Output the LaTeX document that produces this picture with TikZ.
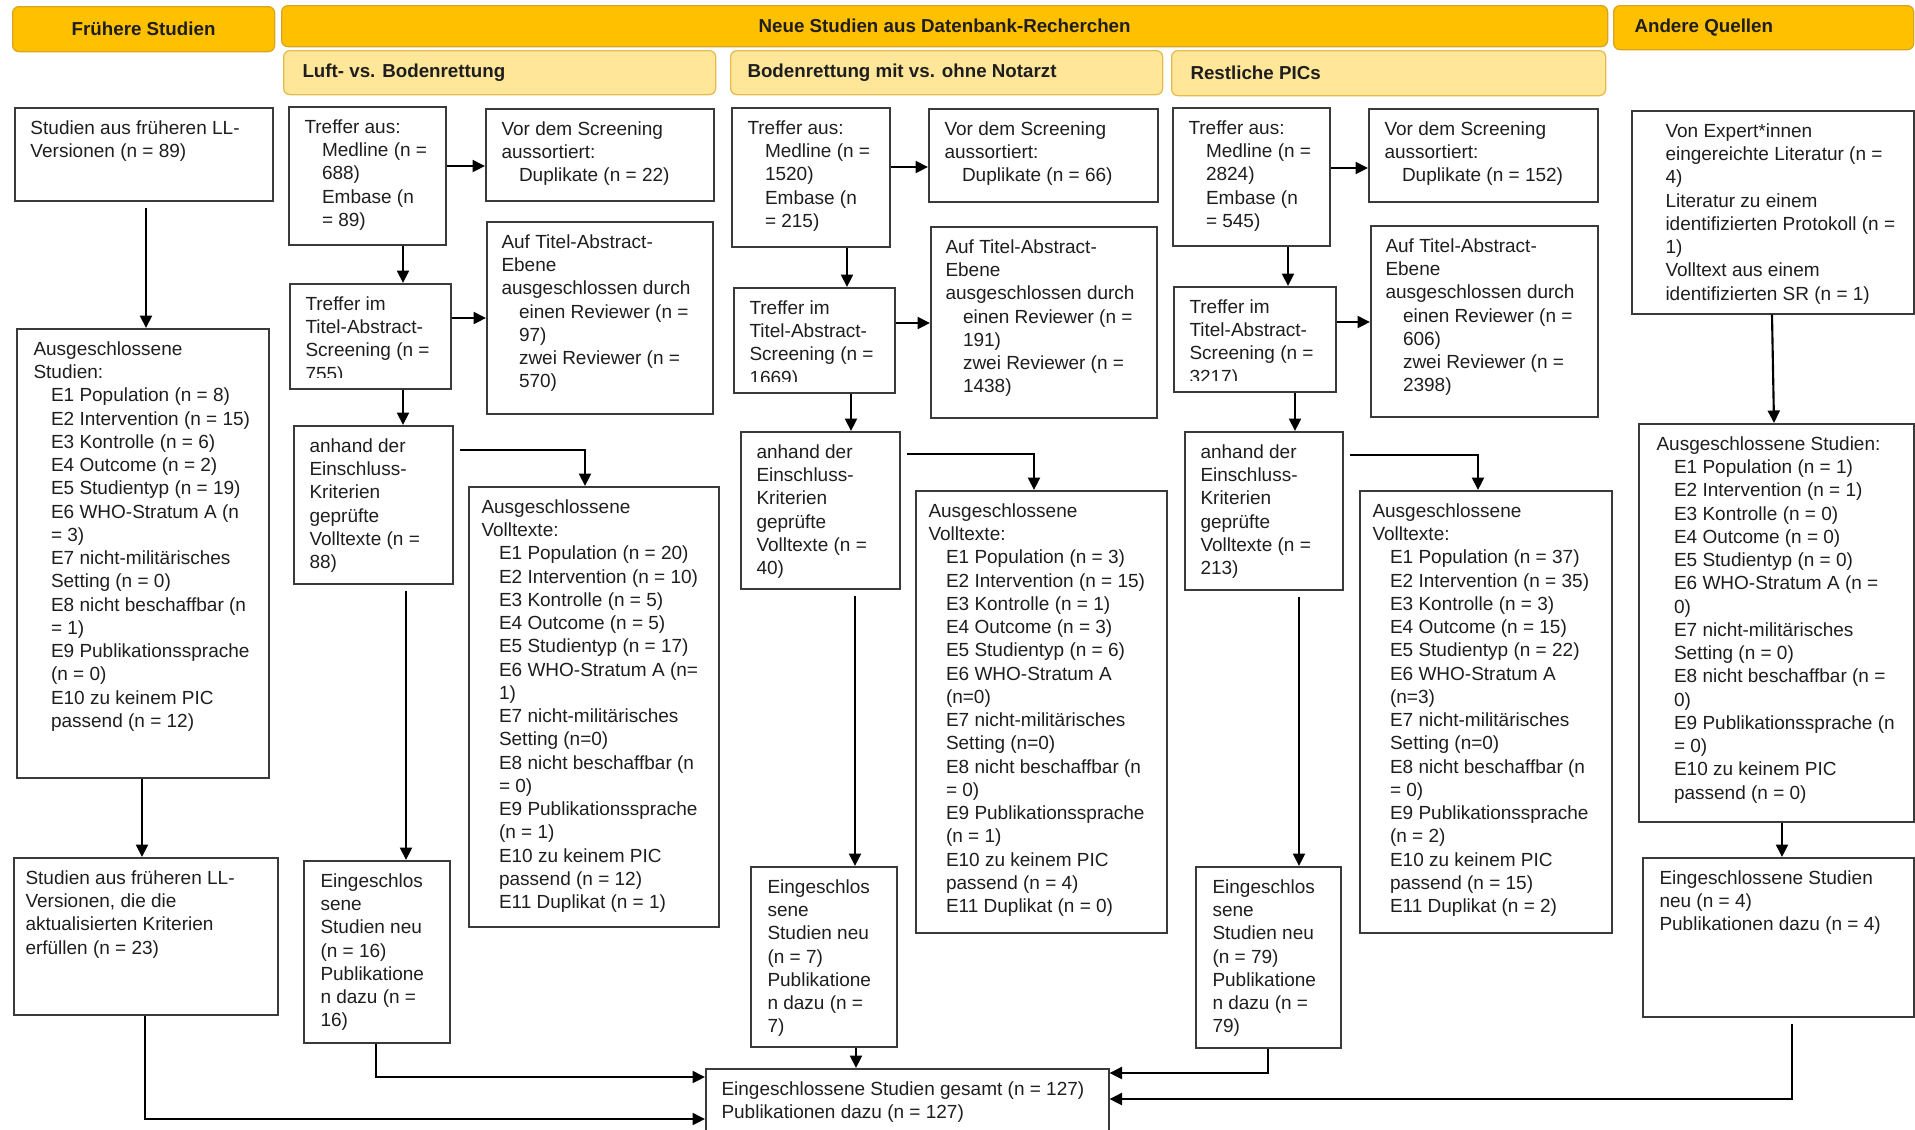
\documentclass[tikz,border=0pt]{standalone}
\usepackage{fontspec}
\setmainfont{Liberation Sans}
\usetikzlibrary{arrows.meta,calc}
\definecolor{hdark}{HTML}{FFC000}
\definecolor{hdarkb}{HTML}{D9A520}
\definecolor{hlight}{HTML}{FFE699}
\definecolor{hlightb}{HTML}{E6BA4E}
\definecolor{boxline}{HTML}{3A3A3A}
\definecolor{tcol}{HTML}{1E1E1E}
\newcommand{\ii}{\hspace*{7pt}}
\newcommand{\bx}[7][16]{%
  \node[box, minimum width={(#5-#3)*0.4pt}, minimum height={(#6-#4)*0.4pt}] (#2) at (#3,#4) {};
  \node[txt] (#2t) at ([shift={(#1,8)}]#2.north west) {\rule{0pt}{7.5pt}#7};
}
\newcommand{\bxc}[7][16]{%
  \node[box, minimum width={(#5-#3)*0.4pt}, minimum height={(#6-#4)*0.4pt}] (#2) at (#3,#4) {};
  \begin{scope}
  \clip (#3,#4) rectangle (#5,#6-11);
  \node[txt] (#2t) at ([shift={(#1,8)}]#2.north west) {\rule{0pt}{7.5pt}#7};
  \end{scope}
}
\begin{document}
\begin{tikzpicture}[x=0.4pt,y=-0.4pt,
  box/.style={draw=boxline, line width=0.6pt, inner sep=0pt, anchor=north west},
  txt/.style={font=\fontsize{7.6}{9.3}\selectfont, align=left, inner sep=0pt, anchor=north west, text=tcol},
  hdA/.style={draw=hdarkb, fill=hdark, line width=0.5pt, rounded corners=2.5pt, inner sep=0pt, anchor=north west},
  hdB/.style={draw=hlightb, fill=hlight, line width=0.5pt, rounded corners=2.5pt, inner sep=0pt, anchor=north west},
  htxt/.style={font=\fontsize{7.5}{9}\selectfont\bfseries, inner sep=0pt, text=tcol},
  arr/.style={draw=black, line width=0.85pt, -{Triangle[length=5pt,width=4.8pt]}},
  gap/.style={shorten <=2.4pt}]
\useasboundingbox (0,0) rectangle (1915,1129);

% ---------- headers ----------
\node[hdA, minimum width={(274-12)*0.4pt}, minimum height={(51-6)*0.4pt}] (h1) at (12,6) {};
\node[htxt] (h1t) at (h1.center) {Frühere Studien};
\node[hdA, minimum width={(1607-281)*0.4pt}, minimum height={(46-5)*0.4pt}] (h2) at (281,5) {};
\node[htxt] (h2t) at (h2.center) {Neue Studien aus Datenbank-Recherchen};
\node[hdA, minimum width={(1913-1613)*0.4pt}, minimum height={(49-5)*0.4pt}] (h3) at (1613,5) {};
\node[htxt, anchor=west] (h3t) at ([xshift=8.4pt]h3.west) {Andere Quellen};
\node[hdB, minimum width={(715-283)*0.4pt}, minimum height={(94-50)*0.4pt}] (g1) at (283,50) {};
\node[htxt, anchor=west] (g1t) at ([xshift=7.6pt]g1.west) {Luft- vs. Bodenrettung};
\node[hdB, minimum width={(1162-730)*0.4pt}, minimum height={(94-50)*0.4pt}] (g2) at (730,50) {};
\node[htxt, anchor=west] (g2t) at ([xshift=6.8pt]g2.west) {Bodenrettung mit vs. ohne Notarzt};
\node[hdB, minimum width={(1605-1171)*0.4pt}, minimum height={(95-50)*0.4pt}] (g3) at (1171,50) {};
\node[htxt, anchor=west] (g3t) at ([xshift=7.6pt]g3.west) {Restliche PICs};

% ---------- Fruehere Studien ----------
\bx{f1}{14}{107}{272}{200}{Studien aus früheren LL-\\Versionen (n = 89)}
\bx[17]{f2}{16}{328}{268}{777}{Ausgeschlossene\\Studien:\\
\ii E1 Population (n = 8)\\\ii E2 Intervention (n = 15)\\\ii E3 Kontrolle (n = 6)\\
\ii E4 Outcome (n = 2)\\\ii E5 Studientyp (n = 19)\\\ii E6 WHO-Stratum A (n\\\ii = 3)\\
\ii E7 nicht-militärisches\\\ii Setting (n = 0)\\\ii E8 nicht beschaffbar (n\\\ii = 1)\\
\ii E9 Publikationssprache\\\ii (n = 0)\\\ii E10 zu keinem PIC\\\ii passend (n = 12)}
\bx[12]{f3}{13}{857}{277}{1014}{Studien aus früheren LL-\\Versionen, die die\\aktualisierten Kriterien\\erfüllen (n = 23)}

% ---------- Luft- vs. Bodenrettung ----------
\bx{l1}{288}{106}{445}{244}{Treffer aus:\\\ii Medline (n =\\\ii 688)\\\ii Embase (n\\\ii = 89)}
\bx{l2}{485}{108}{713}{200}{Vor dem Screening\\aussortiert:\\\ii Duplikate (n = 22)}
\bxc{l3}{289}{283}{450}{388}{Treffer im\\Titel-Abstract-\\Screening (n =\\755)}
\bx[15]{l4}{486}{221}{712}{413}{Auf Titel-Abstract-\\Ebene\\ausgeschlossen durch\\\ii einen Reviewer (n =\\\ii 97)\\\ii zwei Reviewer (n =\\\ii 570)}
\bx{l5}{293}{425}{452}{583}{anhand der\\Einschluss-\\Kriterien\\geprüfte\\Volltexte (n =\\88)}
\bx[13]{l6}{468}{486}{718}{926}{Ausgeschlossene\\Volltexte:\\
\ii E1 Population (n = 20)\\\ii E2 Intervention (n = 10)\\\ii E3 Kontrolle (n = 5)\\
\ii E4 Outcome (n = 5)\\\ii E5 Studientyp (n = 17)\\\ii E6 WHO-Stratum A (n=\\\ii 1)\\
\ii E7 nicht-militärisches\\\ii Setting (n=0)\\\ii E8 nicht beschaffbar (n\\\ii = 0)\\
\ii E9 Publikationssprache\\\ii (n = 1)\\\ii E10 zu keinem PIC\\\ii passend (n = 12)\\\ii E11 Duplikat (n = 1)}
\bx[17]{l7}{303}{860}{449}{1042}{Eingeschlos\\sene\\Studien neu\\(n = 16)\\Publikatione\\n dazu (n =\\16)}

% ---------- Bodenrettung mit vs. ohne Notarzt ----------
\bx{b1}{731}{107}{889}{246}{Treffer aus:\\\ii Medline (n =\\\ii 1520)\\\ii Embase (n\\\ii = 215)}
\bx{b2}{928}{108}{1157}{201}{Vor dem Screening\\aussortiert:\\\ii Duplikate (n = 66)}
\bxc{b3}{733}{287}{894}{392}{Treffer im\\Titel-Abstract-\\Screening (n =\\1669)}
\bx[15]{b4}{930}{226}{1156}{417}{Auf Titel-Abstract-\\Ebene\\ausgeschlossen durch\\\ii einen Reviewer (n =\\\ii 191)\\\ii zwei Reviewer (n =\\\ii 1438)}
\bx{b5}{740}{431}{899}{588}{anhand der\\Einschluss-\\Kriterien\\geprüfte\\Volltexte (n =\\40)}
\bx[13]{b6}{915}{490}{1166}{932}{Ausgeschlossene\\Volltexte:\\
\ii E1 Population (n = 3)\\\ii E2 Intervention (n = 15)\\\ii E3 Kontrolle (n = 1)\\
\ii E4 Outcome (n = 3)\\\ii E5 Studientyp (n = 6)\\\ii E6 WHO-Stratum A\\\ii (n=0)\\
\ii E7 nicht-militärisches\\\ii Setting (n=0)\\\ii E8 nicht beschaffbar (n\\\ii = 0)\\
\ii E9 Publikationssprache\\\ii (n = 1)\\\ii E10 zu keinem PIC\\\ii passend (n = 4)\\\ii E11 Duplikat (n = 0)}
\bx[17]{b7}{750}{866}{896}{1046}{Eingeschlos\\sene\\Studien neu\\(n = 7)\\Publikatione\\n dazu (n =\\7)}

% ---------- Restliche PICs ----------
\bx{r1}{1172}{107}{1329}{245}{Treffer aus:\\\ii Medline (n =\\\ii 2824)\\\ii Embase (n\\\ii = 545)}
\bx{r2}{1368}{108}{1597}{201}{Vor dem Screening\\aussortiert:\\\ii Duplikate (n = 152)}
\bxc{r3}{1173}{286}{1335}{391}{Treffer im\\Titel-Abstract-\\Screening (n =\\3217)}
\bx[15]{r4}{1370}{225}{1597}{416}{Auf Titel-Abstract-\\Ebene\\ausgeschlossen durch\\\ii einen Reviewer (n =\\\ii 606)\\\ii zwei Reviewer (n =\\\ii 2398)}
\bx{r5}{1184}{431}{1342}{589}{anhand der\\Einschluss-\\Kriterien\\geprüfte\\Volltexte (n =\\213)}
\bx[13]{r6}{1359}{490}{1611}{932}{Ausgeschlossene\\Volltexte:\\
\ii E1 Population (n = 37)\\\ii E2 Intervention (n = 35)\\\ii E3 Kontrolle (n = 3)\\
\ii E4 Outcome (n = 15)\\\ii E5 Studientyp (n = 22)\\\ii E6 WHO-Stratum A\\\ii (n=3)\\
\ii E7 nicht-militärisches\\\ii Setting (n=0)\\\ii E8 nicht beschaffbar (n\\\ii = 0)\\
\ii E9 Publikationssprache\\\ii (n = 2)\\\ii E10 zu keinem PIC\\\ii passend (n = 15)\\\ii E11 Duplikat (n = 2)}
\bx[17]{r7}{1195}{866}{1340}{1047}{Eingeschlos\\sene\\Studien neu\\(n = 79)\\Publikatione\\n dazu (n =\\79)}

% ---------- Andere Quellen ----------
\bx[34]{a1}{1631}{110}{1913}{313}{Von Expert*innen\\eingereichte Literatur (n =\\4)\\Literatur zu einem\\identifizierten Protokoll (n =\\1)\\Volltext aus einem\\identifizierten SR (n = 1)}
\bx[18]{a2}{1638}{423}{1913}{821}{Ausgeschlossene Studien:\\
\ii E1 Population (n = 1)\\\ii E2 Intervention (n = 1)\\\ii E3 Kontrolle (n = 0)\\
\ii E4 Outcome (n = 0)\\\ii E5 Studientyp (n = 0)\\\ii E6 WHO-Stratum A (n =\\\ii 0)\\
\ii E7 nicht-militärisches\\\ii Setting (n = 0)\\\ii E8 nicht beschaffbar (n =\\\ii 0)\\
\ii E9 Publikationssprache (n\\\ii = 0)\\\ii E10 zu keinem PIC\\\ii passend (n = 0)}
\bx[17]{a3}{1642}{857}{1913}{1016}{Eingeschlossene Studien\\neu (n = 4)\\Publikationen dazu (n = 4)}

% ---------- total ----------
\bx{t}{705}{1068}{1108}{1140}{Eingeschlossene Studien gesamt (n = 127)\\Publikationen dazu (n = 127)}

% ---------- connectors ----------
\draw[arr,gap] (f1.south -| 146,0) -- (f2.north -| 146,0);
\draw[arr] (f2.south -| 142,0) -- (f3.north -| 142,0);
\draw[arr] (f3.south -| 145,0) |- (t.west |- 0,1119);

\draw[arr] (l1.east |- 0,166) -- (l2.west |- 0,166);
\draw[arr] (l1.south -| 403,0) -- (l3.north -| 403,0);
\draw[arr] (l3.east |- 0,318) -- (l4.west |- 0,318);
\draw[arr] (l3.south -| 403,0) -- (l5.north -| 403,0);
\draw[arr,gap] (l5.east |- 0,450) -| (l6.north -| 585,0);
\draw[arr,gap] (l5.south -| 406,0) -- (l7.north -| 406,0);
\draw[arr] (l7.south -| 376,0) |- (t.west |- 0,1077);

\draw[arr] (b1.east |- 0,167) -- (b2.west |- 0,167);
\draw[arr] (b1.south -| 847,0) -- (b3.north -| 847,0);
\draw[arr] (b3.east |- 0,323) -- (b4.west |- 0,323);
\draw[arr] (b3.south -| 851,0) -- (b5.north -| 851,0);
\draw[arr,gap] (b5.east |- 0,454) -| (b6.north -| 1034,0);
\draw[arr,gap] (b5.south -| 855,0) -- (b7.north -| 855,0);
\draw[arr] (b7.south -| 856,0) -- (t.north -| 856,0);

\draw[arr] (r1.east |- 0,168) -- (r2.west |- 0,168);
\draw[arr] (r1.south -| 1288,0) -- (r3.north -| 1288,0);
\draw[arr] (r3.east |- 0,322) -- (r4.west |- 0,322);
\draw[arr] (r3.south -| 1295,0) -- (r5.north -| 1295,0);
\draw[arr,gap] (r5.east |- 0,455) -| (r6.north -| 1478,0);
\draw[arr,gap] (r5.south -| 1299,0) -- (r7.north -| 1299,0);
\draw[arr] (r7.south -| 1268,0) |- (t.east |- 0,1073);

\draw[arr] (a1.south -| 1772,0) -- (a2.north -| 1774,0);
\draw[arr] (a2.south -| 1782,0) -- (a3.north -| 1782,0);
\draw[arr,gap] (a3.south -| 1792,0) |- (t.east |- 0,1099);
\end{tikzpicture}
\end{document}
